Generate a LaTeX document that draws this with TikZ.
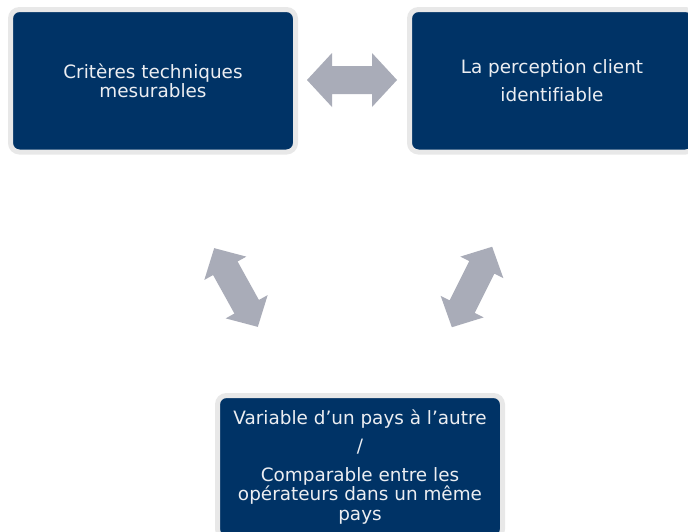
\documentclass[tikz,border=0pt]{standalone}
\usepackage{fontspec}
\setmainfont[Ligatures=NoCommon]{DejaVu Sans}
\definecolor{navy}{RGB}{0,51,102}
\definecolor{rimgray}{RGB}{232,232,232}
\definecolor{arrowfill}{RGB}{169,172,184}
\definecolor{labeltext}{RGB}{236,238,242}
\tikzset{
  card/.style={draw=rimgray, line width=5pt, fill=navy, rounded corners=9pt,
    minimum width=285pt, minimum height=142.5pt, inner sep=0pt,
    text=labeltext, align=center,
    font=\fontsize{18.4}{19.5}\selectfont},
  % two-headed block arrow: #1 half length, #2 head length, #3 head half-width
  pics/dblarrow/.style args={#1/#2/#3}{code={
    \fill[arrowfill] (-#1,0) -- ({-#1+#2},#3) -- ({-#1+#2},14) -- ({#1-#2},14)
      -- ({#1-#2},#3) -- (#1,0) -- ({#1-#2},-#3) -- ({#1-#2},-14)
      -- ({-#1+#2},-14) -- ({-#1+#2},-#3) -- cycle;
  }}
}
\begin{document}
\begin{tikzpicture}[x=1pt,y=-1pt]
  \useasboundingbox (0,0) rectangle (688,531);
  \fill[white] (0,0) rectangle (688,531);
  \clip (0,0) rectangle (688,531);

  \node[card] (tech) at (153,80.75) {Critères techniques\\mesurables};
  \node[card] (perc) at (552,80.75) {La perception client\\[8pt]identifiable};
  \node[card] (var)  at (360,466.75)
    {Variable d’un pays à l’autre\\[9pt]/\\[9pt]Comparable entre les\\opérateurs dans un même\\pays};

  % block arrows linking the three cards
  \pic (techperc) at (352,80) {dblarrow=45/25/27};
  \pic[rotate=-61] (techvar) at (236,287.5) {dblarrow=45/23/24};
  \pic[rotate=63.4] (percvar) at (472,287) {dblarrow=45/23/24};
\end{tikzpicture}
\end{document}
